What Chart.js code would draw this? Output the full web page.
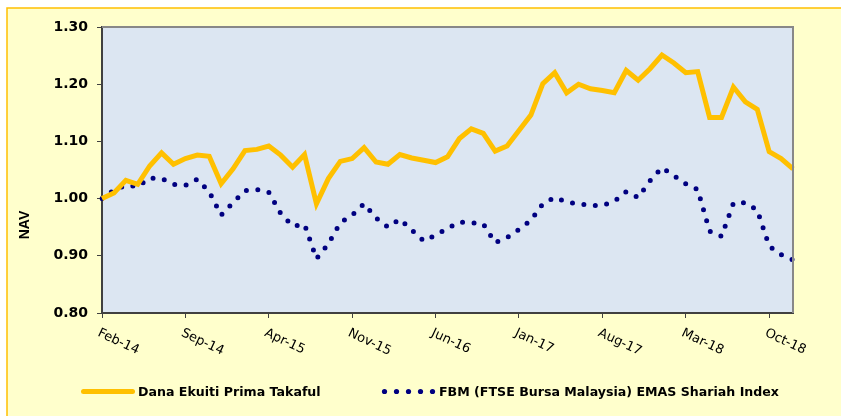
<!DOCTYPE html>
<html lang="en">
<head>
  <meta charset="UTF-8">
  <title>Dana Ekuiti Prima Takaful - NAV</title>
  <script src="https://cdn.jsdelivr.net/npm/chart.js"></script>
  <style>
    html, body { margin: 0; padding: 0; background: #fff; }
    #wrap { width: 841px; height: 416px; }
  </style>
</head>
<body>
  <div id="wrap">
    <canvas id="navChart" width="841" height="416"></canvas>
  </div>

  <script>
    // months on the category axis
    const months = [
      'Feb-14', 'Mar-14', 'Apr-14', 'May-14', 'Jun-14', 'Jul-14', 'Aug-14', 'Sep-14', 'Oct-14', 'Nov-14', 'Dec-14',
      'Jan-15', 'Feb-15', 'Mar-15', 'Apr-15', 'May-15', 'Jun-15', 'Jul-15', 'Aug-15', 'Sep-15', 'Oct-15', 'Nov-15', 'Dec-15',
      'Jan-16', 'Feb-16', 'Mar-16', 'Apr-16', 'May-16', 'Jun-16', 'Jul-16', 'Aug-16', 'Sep-16', 'Oct-16', 'Nov-16', 'Dec-16',
      'Jan-17', 'Feb-17', 'Mar-17', 'Apr-17', 'May-17', 'Jun-17', 'Jul-17', 'Aug-17', 'Sep-17', 'Oct-17', 'Nov-17', 'Dec-17',
      'Jan-18', 'Feb-18', 'Mar-18', 'Apr-18', 'May-18', 'Jun-18', 'Jul-18', 'Aug-18', 'Sep-18', 'Oct-18', 'Nov-18', 'Dec-18'
    ];

    // labelled months on the x axis
    const tickMonths = ['Feb-14', 'Sep-14', 'Apr-15', 'Nov-15', 'Jun-16', 'Jan-17', 'Aug-17', 'Mar-18', 'Oct-18'];

    const yTicks = [0.80, 0.90, 1.00, 1.10, 1.20, 1.30];

    const fundName = 'Dana Ekuiti Prima Takaful';
    const indexName = 'FBM (FTSE Bursa Malaysia) EMAS Shariah Index';

    // NAV values
    const fundNav = [
      1.000, 1.010, 1.032, 1.025, 1.057, 1.080, 1.060, 1.070, 1.076, 1.074, 1.026,
      1.052, 1.084, 1.086, 1.092, 1.076, 1.055, 1.077, 0.991, 1.035, 1.065, 1.070, 1.089,
      1.064, 1.060, 1.077, 1.071, 1.067, 1.063, 1.073, 1.105, 1.122, 1.114, 1.083, 1.092,
      1.119, 1.146, 1.201, 1.220, 1.185, 1.200, 1.192, 1.189, 1.185, 1.224, 1.207, 1.227,
      1.251, 1.237, 1.220, 1.222, 1.142, 1.142, 1.195, 1.169, 1.156, 1.082, 1.070, 1.052
    ];

    const indexNav = [
      1.000, 1.015, 1.023, 1.021, 1.036, 1.035, 1.025, 1.023, 1.034, 1.012, 0.971,
      0.993, 1.014, 1.016, 1.011, 0.974, 0.952, 0.955, 0.895, 0.921, 0.958, 0.971, 0.991,
      0.966, 0.950, 0.964, 0.945, 0.926, 0.936, 0.948, 0.959, 0.958, 0.956, 0.923, 0.932,
      0.946, 0.962, 0.991, 1.002, 0.994, 0.991, 0.988, 0.988, 0.995, 1.012, 1.002, 1.031,
      1.054, 1.040, 1.026, 1.016, 0.943, 0.934, 0.992, 0.993, 0.980, 0.917, 0.902, 0.893
    ];

    const ORANGE = '#FFC000';
    const NAVY = '#000080';
    const AXIS = '#404040';

    // backgrounds, frame, rotated month labels, y title and legend
    const decorPlugin = {
      id: 'decor',
      beforeDraw(chart) {
        const ctx = chart.ctx;
        const a = chart.chartArea;
        ctx.save();
        ctx.fillStyle = '#ffffff';
        ctx.fillRect(0, 0, chart.width, chart.height);
        ctx.fillStyle = '#FFFFCC';
        ctx.fillRect(7, 8, chart.width, chart.height);
        ctx.strokeStyle = ORANGE;
        ctx.lineWidth = 1.5;
        ctx.beginPath();
        ctx.moveTo(7, chart.height);
        ctx.lineTo(7, 8);
        ctx.lineTo(chart.width, 8);
        ctx.stroke();
        ctx.fillStyle = '#DCE6F2';
        ctx.fillRect(a.left, a.top, a.right - a.left, a.bottom - a.top);
        ctx.restore();
      },
      afterDraw(chart) {
        const ctx = chart.ctx;
        const a = chart.chartArea;
        const x = chart.scales.x;
        ctx.save();

        // top and right frame
        ctx.strokeStyle = '#888888';
        ctx.lineWidth = 2;
        ctx.beginPath();
        ctx.moveTo(a.left, a.top);
        ctx.lineTo(a.right, a.top);
        ctx.lineTo(a.right, a.bottom);
        ctx.stroke();

        // month labels, turned down to the right
        ctx.fillStyle = '#000';
        ctx.font = '13px "DejaVu Sans"';
        ctx.textAlign = 'left';
        ctx.textBaseline = 'alphabetic';
        tickMonths.forEach(m => {
          const px = x.getPixelForValue(months.indexOf(m));
          ctx.save();
          ctx.translate(px - 1, a.bottom + 14);
          ctx.rotate(25 * Math.PI / 180);
          ctx.fillText(m, 0, 9.5);
          ctx.restore();
        });

        // y title
        ctx.save();
        ctx.translate(29, 225);
        ctx.rotate(-Math.PI / 2);
        ctx.font = 'bold 14px "Liberation Sans"';
        ctx.textAlign = 'center';
        ctx.textBaseline = 'alphabetic';
        ctx.fillText('NAV', 0, 0);
        ctx.restore();

        // legend
        const ly = 391.5;
        const ds = chart.data.datasets;
        ctx.font = 'bold 12.6px "DejaVu Sans"';
        ctx.textBaseline = 'middle';
        ctx.strokeStyle = ds[0].borderColor;
        ctx.lineWidth = 5;
        ctx.lineCap = 'round';
        ctx.beginPath();
        ctx.moveTo(83.5, ly);
        ctx.lineTo(132.5, ly);
        ctx.stroke();
        ctx.fillStyle = '#000';
        ctx.fillText(ds[0].label, 138, ly + 1);

        ctx.fillStyle = ds[1].borderColor;
        for (let i = 0; i < 5; i++) {
          ctx.beginPath();
          ctx.arc(384.5 + i * 12, ly, 2.6, 0, Math.PI * 2);
          ctx.fill();
        }
        ctx.fillStyle = '#000';
        ctx.fillText(ds[1].label, 439, ly + 1);

        ctx.restore();
      }
    };

    const ctxNav = document.getElementById('navChart').getContext('2d');

    const navChart = new Chart(ctxNav, {
      type: 'line',
      data: {
        labels: months,
        datasets: [
          {
            label: fundName,
            data: fundNav,
            borderColor: ORANGE,
            borderWidth: 5,
            borderJoinStyle: 'miter',
            pointRadius: 0,
            tension: 0,
            fill: false
          },
          {
            label: indexName,
            data: indexNav,
            borderColor: NAVY,
            borderWidth: 5,
            borderDash: [0, 11.5],
            borderCapStyle: 'round',
            borderJoinStyle: 'round',
            pointRadius: 0,
            tension: 0,
            fill: false
          }
        ]
      },
      options: {
        responsive: false,
        animation: false,
        layout: { padding: { left: 0, right: 48, top: 27, bottom: 0 } },
        plugins: {
          legend: { display: false },
          tooltip: { enabled: false }
        },
        scales: {
          x: {
            type: 'category',
            offset: false,
            afterFit: s => { s.height = 103; },
            border: { color: AXIS, width: 2 },
            grid: {
              drawOnChartArea: false,
              tickLength: 5,
              lineWidth: 1,
              color: c => tickMonths.includes(months[c.index]) ? AXIS : 'rgba(0,0,0,0)'
            },
            ticks: { display: false, autoSkip: false }
          },
          y: {
            min: 0.8,
            max: 1.3,
            afterFit: s => { s.width = 102; },
            afterBuildTicks: s => { s.ticks = yTicks.map(v => ({ value: v })); },
            border: { color: AXIS, width: 2 },
            grid: { drawOnChartArea: false, tickLength: 5, color: AXIS, lineWidth: 1 },
            ticks: {
              padding: 9,
              color: '#000',
              font: { family: 'DejaVu Sans', size: 14, weight: 'bold' },
              callback: v => Number(v).toFixed(2)
            }
          }
        }
      },
      plugins: [decorPlugin]
    });
  </script>
</body>
</html>
